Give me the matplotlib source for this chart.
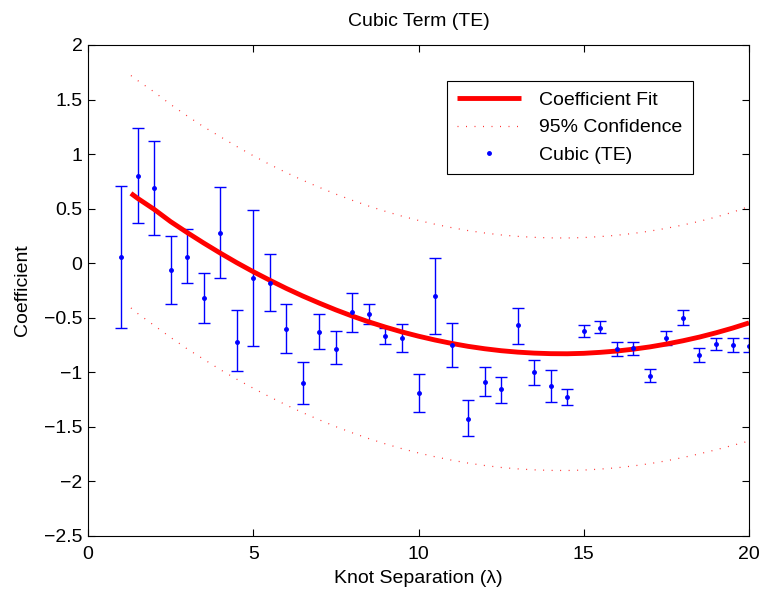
import matplotlib
matplotlib.use("Agg")
from matplotlib import pyplot as plt
from matplotlib import ticker
import numpy as np

plt.rcParams['font.family'] = ['Liberation Sans', 'DejaVu Sans']

# measured coefficients with error bar ends
knot_sep = [1, 1.5, 2, 2.5, 3, 3.5, 4, 4.5, 5, 5.5, 6, 6.5, 7, 7.5, 8, 8.5, 9, 9.5, 10, 10.5,
            11, 11.5, 12, 12.5, 13, 13.5, 14, 14.5, 15, 15.5, 16, 16.5, 17, 17.5, 18, 18.5, 19, 19.5, 20]
coef = [0.06, 0.80, 0.69, -0.06, 0.06, -0.32, 0.28, -0.72, -0.14, -0.18, -0.60, -1.10, -0.63, -0.79,
        -0.45, -0.47, -0.67, -0.69, -1.19, -0.30, -0.75, -1.43, -1.09, -1.15, -0.57, -1.00, -1.13, -1.23,
        -0.62, -0.59, -0.79, -0.78, -1.03, -0.69, -0.50, -0.84, -0.74, -0.75, -0.76]
err_top = [0.71, 1.24, 1.12, 0.25, 0.31, -0.09, 0.70, -0.43, 0.49, 0.08, -0.37, -0.91, -0.47, -0.62,
           -0.27, -0.37, -0.59, -0.56, -1.02, 0.05, -0.55, -1.25, -0.95, -1.04, -0.41, -0.89, -0.98, -1.15,
           -0.57, -0.53, -0.72, -0.72, -0.97, -0.62, -0.43, -0.78, -0.69, -0.69, -0.69]
err_bot = [-0.59, 0.37, 0.26, -0.37, -0.18, -0.55, -0.14, -0.99, -0.76, -0.44, -0.82, -1.29, -0.79, -0.92,
           -0.63, -0.56, -0.74, -0.81, -1.36, -0.65, -0.95, -1.58, -1.22, -1.28, -0.74, -1.12, -1.27, -1.30,
           -0.68, -0.64, -0.85, -0.84, -1.09, -0.75, -0.57, -0.91, -0.80, -0.81, -0.81]

# fitted curve and 95% bounds
fit_x = [1.3, 1.5, 2, 2.5, 3, 3.5, 4, 4.5, 5, 5.5, 6, 6.5, 7, 7.5, 8, 8.5, 9, 9.5, 10, 10.5,
         11, 11.5, 12, 12.5, 13, 13.5, 14, 14.5, 15, 15.5, 16, 16.5, 17, 17.5, 18, 18.5, 19, 19.5, 20]
fit_y = [0.640, 0.595, 0.494, 0.381, 0.281, 0.185, 0.093, 0.005, -0.078, -0.156, -0.231, -0.301,
         -0.366, -0.428, -0.485, -0.538, -0.586, -0.630, -0.669, -0.704, -0.735, -0.762, -0.784,
         -0.802, -0.815, -0.824, -0.829, -0.830, -0.826, -0.817, -0.805, -0.788, -0.767, -0.741,
         -0.711, -0.677, -0.638, -0.595, -0.547]
upper = [1.72, 1.675, 1.57, 1.455, 1.35, 1.25, 1.16, 1.07, 0.985, 0.905, 0.83, 0.76, 0.695, 0.633,
         0.576, 0.523, 0.475, 0.431, 0.392, 0.357, 0.326, 0.299, 0.277, 0.259, 0.246, 0.237, 0.232,
         0.231, 0.235, 0.244, 0.256, 0.273, 0.294, 0.320, 0.350, 0.384, 0.423, 0.467, 0.52]
lower = [-0.41, -0.46, -0.57, -0.68, -0.785, -0.88, -0.975, -1.063, -1.146, -1.225, -1.30, -1.37,
         -1.436, -1.498, -1.555, -1.608, -1.656, -1.70, -1.739, -1.774, -1.805, -1.832, -1.854,
         -1.872, -1.885, -1.894, -1.899, -1.900, -1.896, -1.887, -1.875, -1.858, -1.837, -1.811,
         -1.781, -1.747, -1.71, -1.67, -1.63]

fig = plt.figure(figsize=(7.63, 5.95), dpi=100)
ax = fig.add_axes([0.1153, 0.0992, 0.8664, 0.8252])

yerr = [np.array(coef) - np.array(err_bot), np.array(err_top) - np.array(coef)]
ax.errorbar(knot_sep, coef, yerr=yerr, fmt='none', ecolor='blue', elinewidth=1, capsize=4.5, capthick=1)
ax.plot(fit_x, fit_y, color='red', linewidth=3.5, label='Coefficient Fit', solid_capstyle='butt')
ax.plot(fit_x, upper, color='red', linestyle=(0, (0.8, 6)), linewidth=0.9, alpha=0.8, label='95% Confidence')
ax.plot(fit_x, lower, color='red', linestyle=(0, (0.8, 6)), linewidth=0.9, alpha=0.8)
ax.plot(knot_sep, coef, linestyle='none', marker='.', markersize=5, color='blue', label='Cubic (TE)')

ax.set_xlim(0, 20)
ax.set_ylim(-2.5, 2)
ax.set_xticks(np.arange(0, 21, 5))
ax.set_yticks(np.arange(-2.5, 2.01, 0.5))
fmt = ticker.FuncFormatter(lambda v, p: ('%g' % v).replace('-', '\u2212'))
ax.xaxis.set_major_formatter(fmt)
ax.yaxis.set_major_formatter(fmt)
ax.tick_params(direction='in', top=True, right=True, labelsize=14, length=5, pad=4)
ax.tick_params(axis='x', pad=7)
for s in ax.spines.values():
    s.set_linewidth(0.8)

ax.set_title('Cubic Term (TE)', fontsize=14, pad=14)
ax.set_xlabel('Knot Separation (λ)', fontsize=14, labelpad=5)
ax.set_ylabel('Coefficient', fontsize=14, labelpad=9)

leg = ax.legend(loc='upper right', bbox_to_anchor=(0.915, 0.927), borderaxespad=0, fontsize=14,
                fancybox=False, edgecolor='black', framealpha=1, handlelength=3.3, handletextpad=0.9,
                borderpad=0.55, labelspacing=0.5)
leg.get_frame().set_linewidth(0.8)

fig.savefig('out.png', dpi=100)
